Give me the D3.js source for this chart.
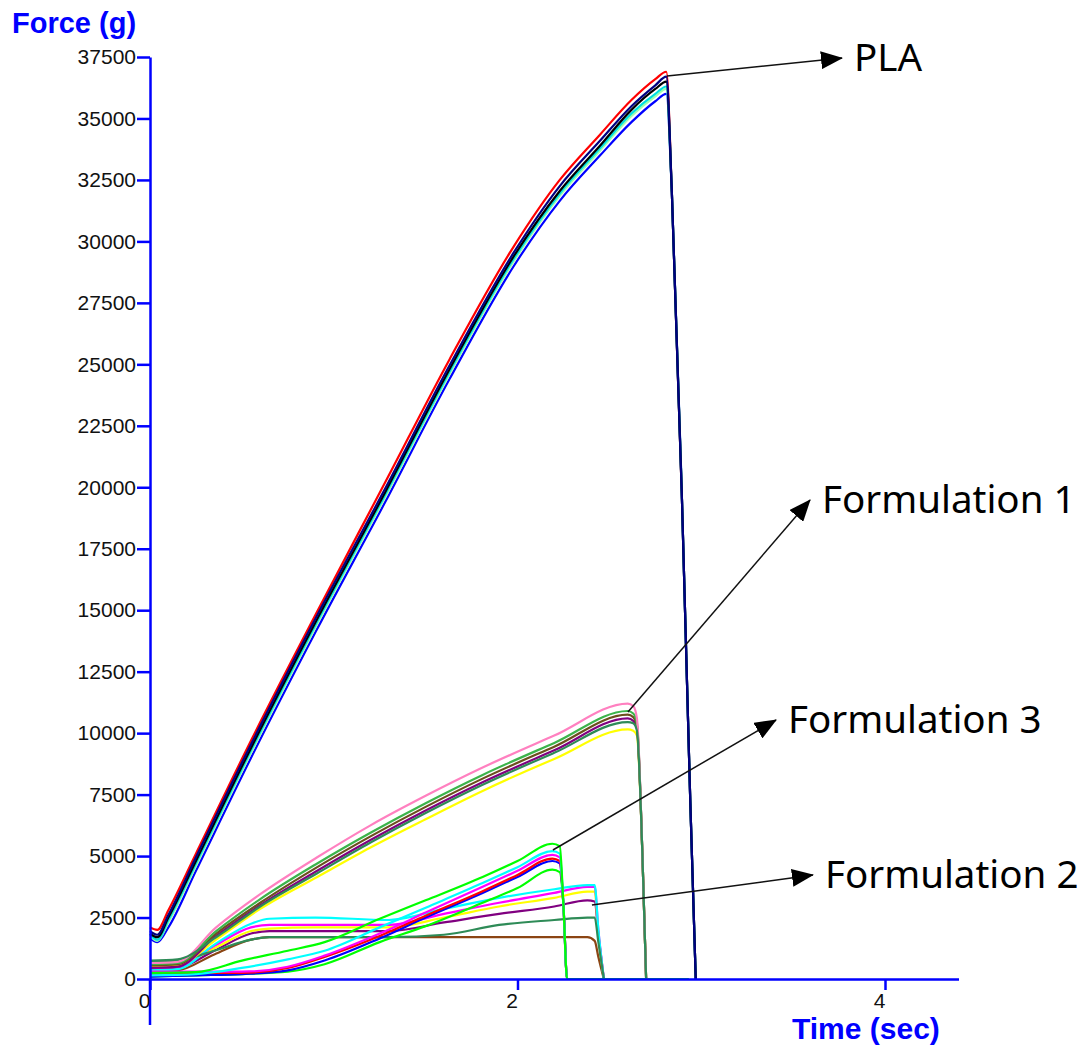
<!DOCTYPE html>
<html>
<head>
<meta charset="utf-8">
<script src="https://cdn.jsdelivr.net/npm/d3@7"></script>
<style>
  body { margin: 0; background: #fff; }
</style>
</head>
<body>
<div id="chart"></div>
<script>
// Force / time curves

// PLA
var plaTime  = [0, 0.04, 0.1, 0.25, 0.55, 0.9, 1.28, 1.63, 1.98, 2.23, 2.45, 2.62, 2.75, 2.81, 2.84, 2.895, 2.94, 2.97]
var plaRed   = [2100, 2000, 2800, 5100, 9700, 14800, 20200, 25200, 29800, 32500, 34350, 35750, 36600, 36900, 32000, 19500, 7300, 0]
var plaBlue  = [1650, 1500, 2100, 4400, 9000, 14100, 19400, 24400, 29000, 31650, 33500, 34850, 35700, 36000, 32000, 19500, 7300, 0]
var plaLight = [1750, 1550, 2300, 4600, 9200, 14300, 19600, 24600, 29200, 31850, 33700, 35100, 35900, 36200, 32000, 19500, 7300, 0]
var plaCyan  = [1800, 1600, 2400, 4700, 9300, 14400, 19700, 24700, 29300, 31950, 33800, 35200, 36000, 36300, 32000, 19500, 7300, 0]
var plaBlack = [1850, 1700, 2500, 4800, 9400, 14500, 19800, 24800, 29400, 32050, 33900, 35350, 36200, 36500, 32000, 19500, 7300, 0]
var plaNavy  = [1950, 1800, 2600, 4950, 9550, 14650, 19950, 24950, 29550, 32250, 34100, 35500, 36350, 36700, 32000, 19500, 7300, 0]

// Formulation 1
var f1Time   = [0, 0.15, 0.36, 0.6, 0.91, 1.2, 1.5, 1.81, 2.2, 2.6, 2.63, 2.65, 2.68, 2.70]
var f1Pink   = [650, 700, 2100, 3450, 4950, 6250, 7450, 8600, 9900, 11200, 11100, 10600, 5000, 0]
var f1Green  = [600, 650, 1950, 3250, 4700, 5950, 7150, 8300, 9600, 10900, 10800, 10400, 5000, 0]
var f1Olive  = [550, 600, 1850, 3100, 4550, 5800, 7000, 8150, 9450, 10750, 10650, 10300, 5000, 0]
var f1Purple = [450, 500, 1750, 3000, 4400, 5650, 6850, 8000, 9300, 10600, 10500, 10200, 5000, 0]
var f1Yellow = [500, 550, 1600, 2850, 4150, 5350, 6500, 7650, 8950, 10150, 10100, 9900, 5000, 0]
var f1Sea    = [750, 800, 1700, 2950, 4300, 5550, 6750, 7900, 9200, 10450, 10400, 10100, 5000, 0]

// Formulation 3
var f3Time    = [0, 0.25, 0.5, 0.75, 0.95, 1.25, 1.5, 1.81, 2.0, 2.19, 2.23, 2.25, 2.27, 2.93]
var f3Lime2   = [100, 150, 200, 300, 600, 1500, 2150, 3100, 3700, 4450, 4350, 3000, 0, 0]
var f3Navy    = [100, 150, 200, 350, 750, 1650, 2500, 3500, 4150, 4800, 4700, 3000, 0, 0]
var f3Red     = [200, 250, 250, 450, 900, 1750, 2570, 3570, 4230, 4900, 4800, 3000, 0, 0]
var f3Magenta = [300, 300, 300, 500, 950, 1850, 2700, 3750, 4400, 5050, 4950, 3000, 0, 0]
var f3Cyan    = [150, 200, 450, 800, 1150, 2100, 2900, 3900, 4550, 5200, 5100, 3000, 0, 0]
var f3Green   = [250, 280, 750, 1150, 1500, 2450, 3200, 4150, 4800, 5500, 5400, 3000, 0, 0]

// Formulation 2
var f2Time    = [0, 0.15, 0.35, 0.55, 0.65, 0.9, 1.3, 1.6, 1.9, 2.2, 2.38, 2.42, 2.44, 2.47]
var f2Brown   = [300, 350, 1000, 1600, 1700, 1700, 1700, 1700, 1700, 1700, 1700, 1550, 900, 0]
var f2Green   = [700, 750, 1150, 1600, 1700, 1700, 1700, 1800, 2200, 2400, 2500, 2500, 1500, 0]
var f2Purple  = [400, 450, 1150, 1850, 1950, 1950, 1950, 2300, 2650, 2950, 3200, 3150, 1800, 0]
var f2Yellow  = [550, 600, 1250, 1950, 2050, 2100, 2100, 2500, 2950, 3300, 3550, 3550, 1800, 0]
var f2Magenta = [450, 500, 1350, 2100, 2200, 2200, 2200, 2650, 3100, 3500, 3750, 3750, 2000, 0]
var f2Cyan    = [350, 400, 1400, 2250, 2450, 2500, 2400, 2850, 3300, 3650, 3820, 3820, 2000, 0]

// Achsen
var yTicks = [0, 2500, 5000, 7500, 10000, 12500, 15000, 17500, 20000, 22500, 25000, 27500, 30000, 32500, 35000, 37500]
var xTicks = [0, 2, 4]

// Beschriftungen (Pfeil: Start und Spitze in Datenkoordinaten)
var annLabels = ["PLA", "Formulation 1", "Formulation 3", "Formulation 2"]
var annTail = [[2.814, 36727], [2.601, 10859], [2.193, 5247], [2.405, 3010]]
var annTip  = [[3.766, 37459], [3.592, 19482], [3.407, 10534], [3.608, 4230]]

var width = 1087
var height = 1046

var svg = d3.select("#chart")
  .append("svg")
  .attr("width", width)
  .attr("height", height)
  .style("font-family", "'Liberation Sans', Arial, sans-serif")

var x = d3.scaleLinear().domain([0, 4.4]).range([150, 958.5])
var y = d3.scaleLinear().domain([0, 37500]).range([979, 57])

// Kurven (Reihenfolge = Zeichenreihenfolge)
var series = [
  { t: f2Time, v: f2Brown, c: "#8b4513" },
  { t: f2Time, v: f2Purple, c: "#800080" },
  { t: f2Time, v: f2Yellow, c: "#ffff00" },
  { t: f2Time, v: f2Magenta, c: "#ff00ff" },
  { t: f2Time, v: f2Cyan, c: "#00ffff" },
  { t: f2Time, v: f2Green, c: "#2e8b57" },
  { t: f3Time, v: f3Lime2, c: "#00ff00" },
  { t: f3Time, v: f3Navy, c: "#0000ff" },
  { t: f3Time, v: f3Red, c: "#ff0000" },
  { t: f3Time, v: f3Magenta, c: "#ff00ff" },
  { t: f3Time, v: f3Cyan, c: "#00ffff" },
  { t: f3Time, v: f3Green, c: "#00ff00" },
  { t: f1Time, v: f1Yellow, c: "#ffff00" },
  { t: f1Time, v: f1Purple, c: "#800080" },
  { t: f1Time, v: f1Olive, c: "#6b4f1d" },
  { t: f1Time, v: f1Green, c: "#3cb44b" },
  { t: f1Time, v: f1Pink, c: "#ff80c0" },
  { t: f1Time, v: f1Sea, c: "#2e8b57" },
  { t: plaTime, v: plaRed, c: "#ff0000" },
  { t: plaTime, v: plaBlue, c: "#0000ff" },
  { t: plaTime, v: plaLight, c: "#9cffb0" },
  { t: plaTime, v: plaCyan, c: "#00e0e0" },
  { t: plaTime, v: plaBlack, c: "#000000" },
  { t: plaTime, v: plaNavy, c: "#000080" }
]

var line = d3.line()
  .x(function(d){ return x(d[0]) })
  .y(function(d){ return y(d[1]) })
  .curve(d3.curveMonotoneX)

svg.append("g")
  .selectAll("path")
  .data(series)
  .enter()
  .append("path")
    .attr("d", function(s){ return line(s.t.map(function(t, i){ return [t, s.v[i]] })) })
    .attr("fill", "none")
    .attr("stroke", function(s){ return s.c })
    .attr("stroke-width", 2.2)
    .attr("stroke-linejoin", "round")

// Y Achse
var yAxis = svg.append("g")
  .attr("transform", "translate(" + x(0) + ",0)")
  .call(d3.axisLeft(y).tickValues(yTicks).tickSize(13).tickSizeOuter(0).tickPadding(1).tickFormat(d3.format("d")))
yAxis.select(".domain").attr("stroke", "#0000ff").attr("stroke-width", 2.5)
yAxis.selectAll(".tick line").attr("stroke", "#0000ff").attr("stroke-width", 2.5)
yAxis.selectAll(".tick text")
  .attr("fill", "#111")
  .style("font-size", "21px")
  .style("font-family", "'Liberation Sans', Arial, sans-serif")

// Verlängerung der Y Achse unter 0
yAxis.append("line")
  .attr("x1", 0).attr("x2", 0)
  .attr("y1", y(0)).attr("y2", y(0) + 46)
  .attr("stroke", "#0000ff")
  .attr("stroke-width", 2.5)

// X Achse
var xAxis = svg.append("g")
  .attr("transform", "translate(0," + y(0) + ")")
  .call(d3.axisBottom(x).tickValues(xTicks).tickSize(11).tickSizeOuter(0).tickPadding(3).tickFormat(d3.format("d")))
xAxis.select(".domain").attr("stroke", "#0000ff").attr("stroke-width", 2.5)
xAxis.selectAll(".tick line").attr("stroke", "#0000ff").attr("stroke-width", 2.5)
xAxis.selectAll(".tick text")
  .attr("fill", "#111")
  .attr("dx", -6)
  .style("font-size", "21px")
  .style("font-family", "'Liberation Sans', Arial, sans-serif")

// Achsentitel
svg.append("text")
  .attr("x", 12)
  .attr("y", 33)
  .text("Force (g)")
  .attr("fill", "#0000ff")
  .style("font-weight", "bold")
  .style("font-size", "29px")

svg.append("text")
  .attr("x", 792)
  .attr("y", 1039)
  .text("Time (sec)")
  .attr("fill", "#0000ff")
  .style("font-weight", "bold")
  .style("font-size", "30px")

// Pfeile mit Beschriftung
svg.append("defs")
  .append("marker")
    .attr("id", "arrow")
    .attr("markerUnits", "userSpaceOnUse")
    .attr("markerWidth", 22)
    .attr("markerHeight", 18)
    .attr("refX", 21)
    .attr("refY", 9)
    .attr("orient", "auto")
  .append("path")
    .attr("d", "M0,0 L22,9 L0,18 Z")
    .attr("fill", "#000")

svg.append("g")
  .selectAll("line")
  .data(annLabels)
  .enter()
  .append("line")
    .attr("x1", function(d, i){ return x(annTail[i][0]) })
    .attr("y1", function(d, i){ return y(annTail[i][1]) })
    .attr("x2", function(d, i){ return x(annTip[i][0]) })
    .attr("y2", function(d, i){ return y(annTip[i][1]) })
    .attr("stroke", "#111")
    .attr("stroke-width", 1.5)
    .attr("marker-end", "url(#arrow)")

svg.append("g")
  .selectAll("text")
  .data(annLabels)
  .enter()
  .append("text")
    .attr("x", function(d, i){ return x(annTip[i][0]) + 12 })
    .attr("y", function(d, i){ return y(annTip[i][1]) + 3 })
    .attr("dominant-baseline", "middle")
    .text(function(d){ return d })
    .attr("fill", "#000")
    .style("font-family", "'Noto Sans', 'Open Sans', sans-serif")
    .style("font-size", "38.5px")
</script>
</body>
</html>
